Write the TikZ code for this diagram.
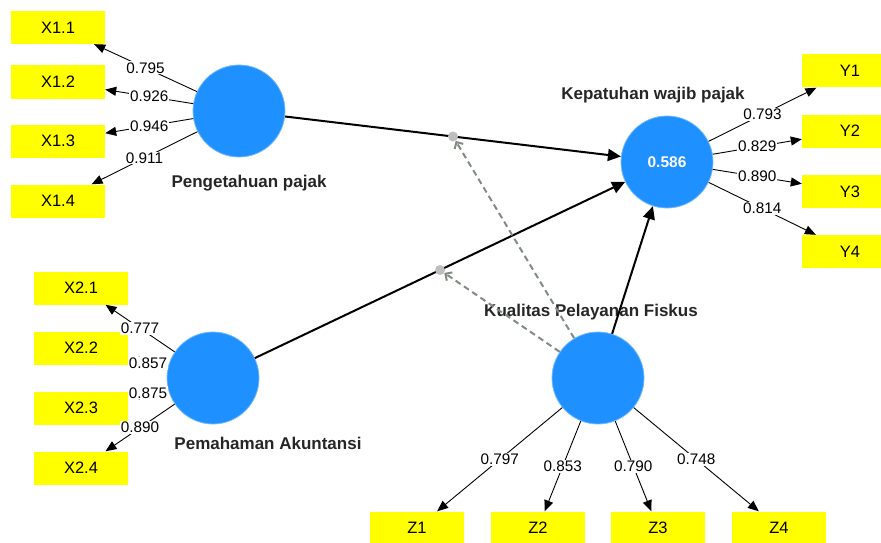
\documentclass[tikz,border=0pt]{standalone}
\usepackage{fontspec}
\setmainfont{Liberation Sans}
\usetikzlibrary{arrows.meta,positioning}
\definecolor{lvblue}{RGB}{30,144,255}
\definecolor{lvedge}{RGB}{120,185,250}
\definecolor{mvyellow}{RGB}{255,255,0}
\definecolor{modgray}{RGB}{130,140,130}
\definecolor{dotgray}{RGB}{190,190,190}

\begin{document}
\begin{tikzpicture}[x=1pt,y=-1pt,>={Triangle[length=11pt,width=9pt]},
  latent/.style={circle,fill=lvblue,draw=lvedge,line width=0.8pt,
  minimum size=92pt,inner sep=0pt,text=white,
  font=\fontsize{15.5}{18}\selectfont\bfseries},
  indicator/.style={rectangle,fill=mvyellow,minimum width=94pt,
  minimum height=33pt,inner sep=0pt,font=\fontsize{16.5}{19}\selectfont},
  title/.style={font=\fontsize{17}{20}\selectfont\bfseries,text=black!85},
  loading/.style={->,line width=0.9pt},
  structural/.style={->,line width=2pt,>={Triangle[length=13pt,width=12pt]}},
  moderation/.style={->,modgray,line width=2pt,dash pattern=on 6pt off 4pt,
  >={Straight Barb[length=5pt,width=10pt]}},
  dot/.style={circle,fill=dotgray,minimum size=10pt,inner sep=0pt},
  weight/.style={fill=white,inner sep=1pt,font=\fontsize{15.3}{18}\selectfont}]

  \useasboundingbox (0,0) rectangle (881,543);

  % latent variables
  \node[latent] (PP) at (239,111) {};
  \node[latent] (PA) at (213,378) {};
  \node[latent] (KW) at (667,162) {0.586};
  \node[latent] (KF) at (598,378) {};

  \node[title] (tPP) at (249,183) {Pengetahuan pajak};
  \node[title] (tPA) at (268,443) {Pemahaman Akuntansi};
  \node[title] (tKW) at (653,95) {Kepatuhan wajib pajak};
  \node[title] (tKF) at (591,312) {Kualitas Pelayanan Fiskus};

  % indicators
  \node[indicator] (X11) at (58,27.5) {X1.1};
  \node[indicator] (X12) at (58,82) {X1.2};
  \node[indicator] (X13) at (58,141) {X1.3};
  \node[indicator] (X14) at (58,201) {X1.4};

  \node[indicator] (X21) at (81,288) {X2.1};
  \node[indicator] (X22) at (81,348) {X2.2};
  \node[indicator] (X23) at (81,408) {X2.3};
  \node[indicator] (X24) at (81,468) {X2.4};

  \node[indicator,minimum width=96pt] (Y1) at (850,71) {Y1};
  \node[indicator,minimum width=96pt] (Y2) at (850,131) {Y2};
  \node[indicator,minimum width=96pt] (Y3) at (850,191.5) {Y3};
  \node[indicator,minimum width=96pt] (Y4) at (850,251.5) {Y4};

  \node[indicator] (Z1) at (417,528) {Z1};
  \node[indicator] (Z2) at (538,528) {Z2};
  \node[indicator] (Z3) at (658,528) {Z3};
  \node[indicator] (Z4) at (779,528) {Z4};

  % outer loadings
  \draw[loading] (PP) -- node[weight] {0.795} (X11);
  \draw[loading] (PP) -- node[weight] {0.926} (X12);
  \draw[loading] (PP) -- node[weight] {0.946} (X13);
  \draw[loading] (PP) -- node[weight] {0.911} (X14);

  \draw[loading] (PA) -- node[weight] {0.777} (X21);
  \draw[loading] (PA) -- node[weight] {0.857} (X22);
  \draw[loading] (PA) -- node[weight] {0.875} (X23);
  \draw[loading] (PA) -- node[weight] {0.890} (X24);

  \draw[loading] (KW) -- node[weight] {0.793} (Y1);
  \draw[loading] (KW) -- node[weight] {0.829} (Y2);
  \draw[loading] (KW) -- node[weight] {0.890} (Y3);
  \draw[loading] (KW) -- node[weight] {0.814} (Y4);

  \draw[loading] (KF) -- node[weight] {0.797} (Z1);
  \draw[loading] (KF) -- node[weight] {0.853} (Z2);
  \draw[loading] (KF) -- node[weight] {0.790} (Z3);
  \draw[loading] (KF) -- node[weight] {0.748} (Z4);

  % inner model
  \draw[structural] (PP) -- coordinate[pos=0.5] (m1) (KW);
  \draw[structural] (PA) -- coordinate[pos=0.5] (m2) (KW);
  \draw[structural] (KF) -- (KW);

  % moderating effects
  \node[dot] (d1) at (m1) {};
  \node[dot] (d2) at (m2) {};
  \draw[moderation] (KF) -- (d1);
  \draw[moderation] (KF) -- (d2);

\end{tikzpicture}
\end{document}
